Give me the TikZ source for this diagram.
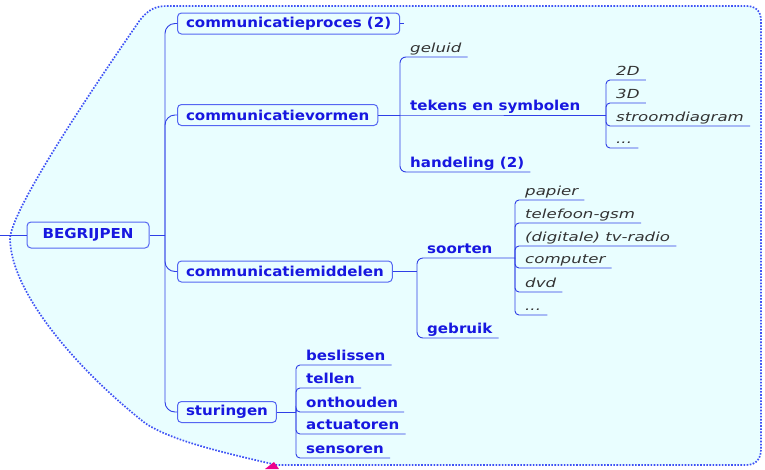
\documentclass[tikz,border=0pt]{standalone}
\usepackage{fontspec}
\newfontfamily\headfam{DejaVu Sans}[FakeStretch=1.1]
\newfontfamily\leaffam{DejaVu Sans}[FakeStretch=1.33]
\definecolor{bgcyan}{HTML}{E9FEFF}
\definecolor{rimblue}{HTML}{3F52F5}
\definecolor{boxblue}{HTML}{5566F2}
\definecolor{txtblue}{HTML}{1717E0}
\definecolor{lineblue}{HTML}{2F3FE6}
\definecolor{txtgrey}{HTML}{333333}
\tikzset{
  conn/.style={draw=lineblue, line width=0.9pt},
  topbox/.style={draw=boxblue, fill=bgcyan, rounded corners=4pt, line width=1pt,
    inner xsep=8.5pt, inner ysep=0pt, minimum height=21pt, anchor=west,
    text=txtblue, font=\headfam\bfseries\fontsize{13.7}{16}\selectfont},
  rootbox/.style={topbox, anchor=center, minimum width=122pt, minimum height=26pt},
  leafbase/.style={anchor=south west, inner xsep=6pt, inner ysep=1.8pt,
    text height=0.74em, text depth=0.24em},
  bleaf/.style={leafbase, text=txtblue, font=\headfam\bfseries\fontsize{13.7}{16}\selectfont},
  ileaf/.style={leafbase, text=txtgrey, font=\leaffam\itshape\fontsize{12.5}{15}\selectfont},
}
\begin{document}
\begin{tikzpicture}[x=1pt,y=-1pt]
\useasboundingbox (0,0) rectangle (765,469);

% dotted boundary of the whole map
\draw[fill=bgcyan, draw=rimblue, line width=1.7pt, dash pattern=on 1.6pt off 1.5pt]
  (167,6) -- (746,6) .. controls (756,6) and (761,11) .. (761,21)
  -- (761,449) .. controls (761,459) and (756,465) .. (746,465)
  -- (277,465) .. controls (220,452) and (170,440) .. (145,423)
  .. controls (80,372) and (12,295) .. (10,240)
  .. controls (9,212) and (95,85) .. (140,20)
  .. controls (148,10) and (155,6) .. (167,6) -- cycle;
\fill[magenta] (265,469) -- (274,462) -- (279,469) -- cycle;

% root and main topics
\node[rootbox] (bg) at (88,235) {BEGRIJPEN};
\coordinate (inlet) at (0,235);
\coordinate (jb) at (165,235);
\node[topbox] (cp) at (177,23.5) {communicatieproces (2)};
\node[topbox] (cv) at (177,115) {communicatievormen};
\node[topbox] (cm) at (177,271.5) {communicatiemiddelen};
\node[topbox] (st) at (177,412) {sturingen};
\coordinate (cpstub) at (404,23.5);

\draw[conn] (inlet) -- (bg.west);
\draw[conn] (bg.east) -- (jb);
\foreach \t in {cp,cv,cm,st} \draw[conn, rounded corners=10pt] (jb) |- (\t.west);
\draw[conn] (cp.east) -- (cpstub);

% communicatievormen
\coordinate (jv) at (400,115);
\node[ileaf] (geluid) at (404,57) {geluid};
\node[bleaf] (tekens) at (404,115) {tekens en symbolen};
\node[bleaf] (handeling) at (404,172) {handeling (2)};
\coordinate (jt) at (606,115);
\draw[conn] (cv.east) -- (jv);
\draw[conn, rounded corners=6pt] (jv) |- (geluid.south east);
\draw[conn] (jv) -- (tekens.south west) -- (jt);
\draw[conn, rounded corners=6pt] (jv) |- (handeling.south east);

\node[ileaf] (d2) at (610,80) {2D};
\node[ileaf] (d3) at (610,103) {3D};
\node[ileaf] (stroom) at (610,126) {stroomdiagram};
\node[ileaf] (tdots) at (610,148) {...};
\foreach \t in {d2,d3,stroom,tdots} \draw[conn, rounded corners=4pt] (jt) |- (\t.south east);

% communicatiemiddelen
\coordinate (jm) at (417,271.5);
\node[bleaf] (soorten) at (421,258) {soorten};
\node[bleaf] (gebruik) at (421,338) {gebruik};
\coordinate (js) at (515,258);
\draw[conn] (cm.east) -- (jm);
\draw[conn, rounded corners=6pt] (jm) |- (js);
\draw[conn, rounded corners=6pt] (jm) |- (gebruik.south east);

\node[ileaf] (papier) at (519,200) {papier};
\node[ileaf] (telefoon) at (519,223) {telefoon-gsm};
\node[ileaf] (tvradio) at (519,246) {(digitale) tv-radio};
\node[ileaf] (computer) at (519,268) {computer};
\node[ileaf] (dvd) at (519,292) {dvd};
\node[ileaf] (sdots) at (519,315) {...};
\foreach \t in {papier,telefoon,tvradio,computer,dvd,sdots}
  \draw[conn, rounded corners=4pt] (js) |- (\t.south east);

% sturingen
\coordinate (jst) at (296,412);
\node[bleaf] (beslissen) at (300,365) {beslissen};
\node[bleaf] (tellen) at (300,388) {tellen};
\node[bleaf] (onthouden) at (300,412) {onthouden};
\node[bleaf] (actuatoren) at (300,434) {actuatoren};
\node[bleaf] (sensoren) at (300,458) {sensoren};
\draw[conn] (st.east) -- (jst);
\foreach \t in {beslissen,tellen,onthouden,actuatoren,sensoren}
  \draw[conn, rounded corners=4pt] (jst) |- (\t.south east);
\end{tikzpicture}
\end{document}
